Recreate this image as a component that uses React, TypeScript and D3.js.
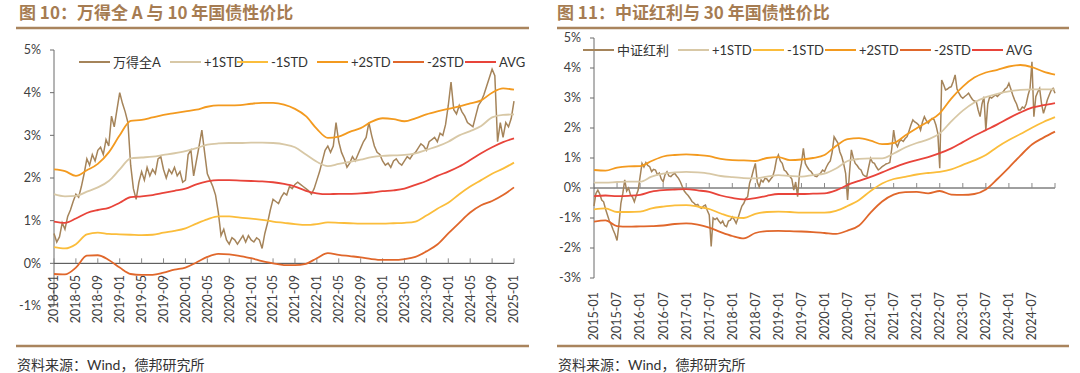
import React from "react";
import * as d3 from "d3";

const W = 1080;
const H = 373;

// ---------- 图10：万得全A 与 10 年国债性价比 (months since 2018-01) ----------
const leftTickLabels = [
  "2018-01", "2018-05", "2018-09", "2019-01", "2019-05", "2019-09", "2020-01", "2020-05",
  "2020-09", "2021-01", "2021-05", "2021-09", "2022-01", "2022-05", "2022-09", "2023-01",
  "2023-05", "2023-09", "2024-01", "2024-05", "2024-09", "2025-01",
];
// half-month steps
const windA = [
  0.70, 0.50, 0.62, 0.95, 0.80, 1.10, 1.25, 1.45, 1.62, 1.55, 1.80, 2.10, 2.45, 2.30, 2.55, 2.40,
  2.65, 2.72, 2.55, 2.90, 2.75, 3.45, 3.20, 3.60, 4.00, 3.75, 3.55, 3.30, 2.30, 1.75, 1.50, 1.90,
  2.15, 1.95, 2.25, 2.05, 2.20, 2.10, 2.45, 2.50, 2.20, 2.00, 2.20, 2.10, 2.25, 2.05, 2.15, 1.90,
  1.95, 2.55, 2.65, 2.05, 2.40, 2.75, 3.12, 2.60, 2.10, 1.95, 1.80, 1.60, 1.20, 0.65, 0.80, 0.55,
  0.45, 0.60, 0.55, 0.45, 0.55, 0.65, 0.50, 0.65, 0.55, 0.50, 0.60, 0.55, 0.35, 0.70, 0.95, 1.25,
  1.50, 1.45, 1.40, 1.55, 1.65, 1.60, 1.80, 1.75, 1.85, 1.90, 1.85, 1.80, 1.75, 1.70, 1.62, 1.75,
  1.95, 2.15, 2.40, 2.65, 2.75, 2.60, 2.75, 3.30, 2.85, 2.60, 2.45, 2.25, 2.35, 2.50, 2.40, 2.55,
  2.70, 2.85, 2.95, 3.30, 3.00, 2.75, 2.60, 2.55, 2.40, 2.30, 2.35, 2.25, 2.40, 2.45, 2.35, 2.30,
  2.40, 2.50, 2.45, 2.55, 2.60, 2.70, 2.80, 2.75, 2.65, 2.85, 2.90, 2.95, 2.85, 3.05, 3.00, 3.25,
  3.70, 4.25, 3.60, 3.50, 3.70, 3.55, 3.45, 3.30, 3.25, 3.20, 3.45, 3.70, 3.80, 3.95, 4.15, 4.35,
  4.55, 4.40, 2.85, 3.30, 2.95, 3.30, 3.20, 3.40, 3.80,
];
// bands, every 2 months
const leftP1 = [
  1.62, 1.57, 1.58, 1.68, 1.78, 1.93, 2.20, 2.46, 2.48, 2.50, 2.54, 2.58, 2.63, 2.70, 2.78, 2.81,
  2.82, 2.82, 2.83, 2.83, 2.82, 2.79, 2.72, 2.55, 2.38, 2.28, 2.33, 2.38, 2.43, 2.49, 2.52, 2.53,
  2.54, 2.58, 2.66, 2.74, 2.85, 3.00, 3.10, 3.22, 3.42, 3.48, 3.49,
];
const leftM1 = [
  0.38, 0.35, 0.45, 0.68, 0.72, 0.69, 0.68, 0.67, 0.66, 0.67, 0.72, 0.76, 0.82, 0.93, 1.03, 1.10,
  1.10, 1.07, 1.05, 1.02, 0.98, 0.95, 0.92, 0.90, 0.92, 0.96, 0.95, 0.94, 0.93, 0.93, 0.93, 0.94,
  0.95, 0.98, 1.12, 1.28, 1.42, 1.62, 1.80, 1.95, 2.10, 2.22, 2.36,
];
const leftP2 = [
  2.20, 2.16, 2.05, 2.18, 2.33, 2.60, 3.00, 3.34, 3.36, 3.42, 3.48, 3.52, 3.56, 3.60, 3.67, 3.70,
  3.70, 3.71, 3.74, 3.76, 3.76, 3.72, 3.62, 3.45, 3.15, 2.94, 2.97, 3.08, 3.17, 3.32, 3.40, 3.38,
  3.33, 3.40, 3.49, 3.56, 3.62, 3.68, 3.75, 3.82, 4.00, 4.10, 4.07,
];
const leftM2 = [
  -0.25, -0.26, -0.10, 0.18, 0.19, 0.08, -0.10, -0.25, -0.27, -0.27, -0.22, -0.15, -0.10, 0.02, 0.15, 0.22,
  0.21, 0.17, 0.12, 0.05, 0.00, -0.04, -0.04, -0.01, 0.12, 0.24, 0.20, 0.17, 0.14, 0.10, 0.08, 0.08,
  0.10, 0.15, 0.28, 0.44, 0.70, 0.95, 1.19, 1.36, 1.46, 1.60, 1.78,
];
const leftAvg = [
  0.98, 0.95, 1.05, 1.18, 1.25, 1.30, 1.42, 1.55, 1.57, 1.60, 1.65, 1.70, 1.75, 1.85, 1.92, 1.95,
  1.95, 1.94, 1.93, 1.92, 1.90, 1.86, 1.80, 1.70, 1.64, 1.62, 1.63, 1.63, 1.64, 1.66, 1.69, 1.71,
  1.75, 1.84, 1.93, 2.05, 2.15, 2.27, 2.42, 2.58, 2.72, 2.84, 2.93,
];

// ---------- 图11：中证红利 与 30 年国债性价比 (months since 2015-01) ----------
const rightTickLabels = [
  "2015-01", "2015-07", "2016-01", "2016-07", "2017-01", "2017-07", "2018-01", "2018-07",
  "2019-01", "2019-07", "2020-01", "2020-07", "2021-01", "2021-07", "2022-01", "2022-07",
  "2023-01", "2023-07", "2024-01", "2024-07",
];
const csiDividend = [
  -0.60, -0.18, -0.07, -0.20, -0.40, -0.46, -0.70, -0.90, -1.10, -1.23, -1.40, -1.55, -1.75, -1.20, -0.51, -0.18,
  0.27, -0.10, 0.00, -0.23, -0.30, -0.46, -0.25, -0.07, 0.38, 0.82, 0.70, 0.85, 0.75, 0.71, 0.55, 0.62,
  0.60, 0.45, 0.50, 0.30, 0.21, 0.45, 0.54, 0.40, 0.38, 0.45, 0.49, 0.40, 0.32, 0.20, 0.04, -0.10,
  -0.18, -0.25, -0.34, -0.45, -0.50, -0.57, -0.55, -0.65, -0.68, -0.60, -0.57, -0.75, -0.90, -1.95, -1.00, -1.05,
  -1.00, -1.10, -1.18, -1.10, -1.25, -1.29, -1.10, -1.07, -0.96, -1.05, -1.18, -1.00, -0.79, -0.60, -0.51, -0.35,
  -0.29, 0.16, 0.35, 0.60, 0.82, 0.20, 0.04, 0.27, 0.20, 0.32, 0.30, 0.21, 0.30, 0.38, 0.60, 0.95,
  1.10, 0.90, 0.82, 0.60, 0.55, 0.45, 0.38, 0.30, -0.07, 0.20, -0.29, 0.50, 0.82, 1.32, 0.82, 0.70,
  0.60, 0.55, 0.45, 0.40, 0.38, 0.45, 0.50, 0.60, 0.55, 0.70, 0.82, 0.90, 1.20, 1.71, 1.60, 1.50,
  1.20, 1.04, 0.80, 0.49, -0.40, 0.50, 1.27, 1.00, 0.82, 0.75, 0.65, 0.60, 0.45, 0.40, 0.38, 0.70,
  0.99, 0.85, 0.82, 0.70, 0.60, 0.65, 0.71, 0.75, 0.80, 0.82, 0.85, 1.30, 1.93, 1.50, 1.38, 1.55,
  1.60, 1.55, 1.65, 1.71, 1.90, 2.10, 2.27, 2.20, 2.16, 2.10, 1.93, 2.20, 2.38, 2.25, 2.16, 2.25,
  2.32, 2.28, 2.10, 1.82, 0.66, 3.60, 3.45, 3.27, 3.30, 3.35, 3.38, 3.55, 3.77, 3.30, 3.16, 3.05,
  2.99, 3.05, 3.10, 3.16, 3.05, 2.95, 2.90, 2.88, 2.60, 2.38, 2.80, 3.04, 1.93, 2.80, 3.04, 3.00,
  3.05, 3.10, 3.05, 3.12, 3.16, 3.20, 3.30, 3.35, 3.49, 3.30, 3.10, 2.93, 2.80, 2.60, 2.60, 2.70,
  2.66, 2.80, 3.10, 3.32, 4.21, 2.38, 3.04, 3.20, 3.32, 2.80, 2.49, 2.70, 2.93, 3.10, 3.25, 3.32,
  3.16,
];
// bands, every 3 months
const rightP1 = [
  0.18, 0.18, 0.20, 0.21, 0.21, 0.38, 0.48, 0.52, 0.54, 0.52, 0.48, 0.40, 0.36, 0.33, 0.32, 0.38,
  0.43, 0.40, 0.38, 0.43, 0.48, 0.65, 0.90, 0.97, 0.99, 0.99, 1.15, 1.35, 1.50, 1.62, 1.82, 2.22,
  2.58, 2.85, 3.03, 3.14, 3.22, 3.27, 3.29, 3.29, 3.29,
];
const rightM1 = [
  -0.71, -0.68, -0.80, -0.80, -0.79, -0.68, -0.62, -0.58, -0.57, -0.62, -0.70, -0.85, -0.97, -1.00, -0.86, -0.80,
  -0.79, -0.80, -0.82, -0.82, -0.82, -0.76, -0.60, -0.40, -0.10, 0.15, 0.30, 0.37, 0.45, 0.50, 0.54, 0.62,
  0.77, 0.92, 1.10, 1.37, 1.60, 1.80, 2.01, 2.20, 2.36,
];
const rightP2 = [
  0.60, 0.58, 0.68, 0.72, 0.73, 0.90, 1.05, 1.10, 1.12, 1.10, 1.06, 0.97, 0.93, 0.92, 0.90, 1.00,
  1.03, 0.93, 0.95, 1.00, 1.10, 1.40, 1.63, 1.66, 1.58, 1.46, 1.50, 1.75, 1.99, 2.22, 2.49, 2.98,
  3.38, 3.68, 3.85, 3.94, 4.05, 4.10, 4.03, 3.88, 3.78,
];
const rightM2 = [
  -1.12, -1.08, -1.27, -1.29, -1.28, -1.27, -1.25, -1.20, -1.18, -1.22, -1.32, -1.47, -1.60, -1.68, -1.50, -1.44,
  -1.43, -1.44, -1.45, -1.47, -1.50, -1.53, -1.42, -1.25, -0.82, -0.45, -0.22, -0.14, -0.13, -0.18, -0.10, -0.22,
  -0.23, -0.20, -0.05, 0.30, 0.68, 1.08, 1.45, 1.68, 1.88,
];
const rightAvg = [
  -0.27, -0.25, -0.27, -0.26, -0.23, -0.12, -0.07, -0.05, -0.04, -0.08, -0.13, -0.25, -0.33, -0.38, -0.34, -0.26,
  -0.20, -0.20, -0.20, -0.19, -0.18, -0.08, 0.10, 0.24, 0.37, 0.52, 0.68, 0.82, 0.93, 1.03, 1.16, 1.32,
  1.53, 1.74, 1.93, 2.12, 2.33, 2.52, 2.68, 2.76, 2.83,
];

const bandNames = ["+1STD", "-1STD", "+2STD", "-2STD", "AVG"];
const mainColor = "#a5845a";
const bandColors = ["#d8c8a6", "#fbbd3b", "#f39a1f", "#e0672b", "#e8443a"];

const LAT = "Lato, 'Noto Sans CJK SC', sans-serif";
const CJK = "'Noto Sans CJK SC', sans-serif";

type PanelProps = {
  title: string;
  titleX: number;
  ruleX0: number;
  ruleX1: number;
  x0: number;
  x1: number;
  yTop: number;
  yBot: number;
  yDomain: [number, number];
  months: number;
  tickEvery: number;
  tickLabels: string[];
  labelTop: number;
  main: number[];
  mainName: string;
  bandStep: number;
  bands: number[][];
  legendY: number;
  legendX: number[];
};

function Panel(p: PanelProps) {
  const x = d3.scaleLinear().domain([0, p.months]).range([p.x0, p.x1]);
  const y = d3.scaleLinear().domain(p.yDomain).range([p.yBot, p.yTop]);
  const mainLine = d3
    .line<number>()
    .x((_, i) => x(i * 0.5))
    .y((d) => y(d));
  const bandLine = d3
    .line<number>()
    .x((_, i) => x(i * p.bandStep))
    .y((d) => y(d))
    .curve(d3.curveMonotoneX);
  const yTicks = d3.range(p.yDomain[0], p.yDomain[1] + 1);
  const xTicks = d3.range(0, p.months + 1, p.tickEvery);
  const names = [p.mainName, ...bandNames];
  const colors = [mainColor, ...bandColors];

  return (
    <g>
      <text x={p.titleX} y={19} fontFamily={CJK} fontWeight="bold" fontSize={17} fill="#a67c52">
        {p.title}
      </text>
      <line x1={p.ruleX0} x2={p.ruleX1} y1={28} y2={28} stroke="#a9845d" strokeWidth={2.5} />
      <line x1={p.ruleX0} x2={p.ruleX1} y1={346} y2={346} stroke="#a9845d" strokeWidth={2.5} />
      <text x={p.ruleX0 + 1} y={370} fontFamily={LAT} fontSize={14} fill="#333">
        资料来源：Wind，德邦研究所
      </text>

      {/* y axis */}
      <line x1={p.x0} x2={p.x0} y1={p.yTop} y2={p.yBot} stroke="#6b6b6b" />
      {yTicks.map((t) => (
        <g key={t}>
          <line x1={p.x0 - 4} x2={p.x0} y1={y(t)} y2={y(t)} stroke="#6b6b6b" />
          <text
            x={p.x0 - 13}
            y={y(t)}
            dy="0.35em"
            textAnchor="end"
            fontFamily={LAT}
            fontSize={12.5}
            fill="#404040"
          >
            {t}%
          </text>
        </g>
      ))}

      {/* x axis on 0% */}
      <line x1={p.x0} x2={p.x1} y1={y(0)} y2={y(0)} stroke="#404040" />
      {xTicks.map((t) => (
        <line key={t} x1={x(t)} x2={x(t)} y1={y(0) - 5} y2={y(0)} stroke="#8a8a8a" />
      ))}
      {p.tickLabels.map((lab, i) => (
        <text
          key={lab}
          transform={`translate(${x(i * p.tickEvery)},${p.labelTop}) rotate(-90)`}
          dy="0.35em"
          textAnchor="end"
          fontFamily={LAT}
          fontSize={12.5}
          fill="#404040"
        >
          {lab}
        </text>
      ))}

      {/* series */}
      <path d={mainLine(p.main) ?? ""} fill="none" stroke={mainColor} strokeWidth={1.5} />
      {p.bands.map((b, i) => (
        <path key={i} d={bandLine(b) ?? ""} fill="none" stroke={bandColors[i]} strokeWidth={1.8} />
      ))}

      {/* legend */}
      {names.map((n, i) => (
        <g key={n}>
          <line
            x1={p.legendX[i]}
            x2={p.legendX[i] + 31}
            y1={p.legendY}
            y2={p.legendY}
            stroke={colors[i]}
            strokeWidth={2}
          />
          <text
            x={p.legendX[i] + 34}
            y={p.legendY}
            dy="0.35em"
            fontFamily={LAT}
            fontSize={13}
            fill="#333"
          >
            {n}
          </text>
        </g>
      ))}
    </g>
  );
}

export default function App() {
  return (
    <svg
      width={W}
      height={H}
      style={{ position: "absolute", left: 0, top: 0, background: "#fff" }}
    >
      <rect width={W} height={H} fill="#fff" />
      <Panel
        title="图 10：万得全 A 与 10 年国债性价比"
        titleX={19}
        ruleX0={16}
        ruleX1={529}
        x0={54}
        x1={514}
        yTop={50}
        yBot={306}
        yDomain={[-1, 5]}
        months={84}
        tickEvery={4}
        tickLabels={leftTickLabels}
        labelTop={275}
        main={windA}
        mainName="万得全A"
        bandStep={2}
        bands={[leftP1, leftM1, leftP2, leftM2, leftAvg]}
        legendY={62}
        legendX={[79, 170, 237, 317, 393, 465]}
      />
      <Panel
        title="图 11：中证红利与 30 年国债性价比"
        titleX={557}
        ruleX0={557}
        ruleX1={1069}
        x0={594}
        x1={1055}
        yTop={38}
        yBot={278}
        yDomain={[-3, 5]}
        months={120}
        tickEvery={6}
        tickLabels={rightTickLabels}
        labelTop={292}
        main={csiDividend}
        mainName="中证红利"
        bandStep={3}
        bands={[rightP1, rightM1, rightP2, rightM2, rightAvg]}
        legendY={50}
        legendX={[583, 678, 753, 825, 900, 972]}
      />
    </svg>
  );
}
